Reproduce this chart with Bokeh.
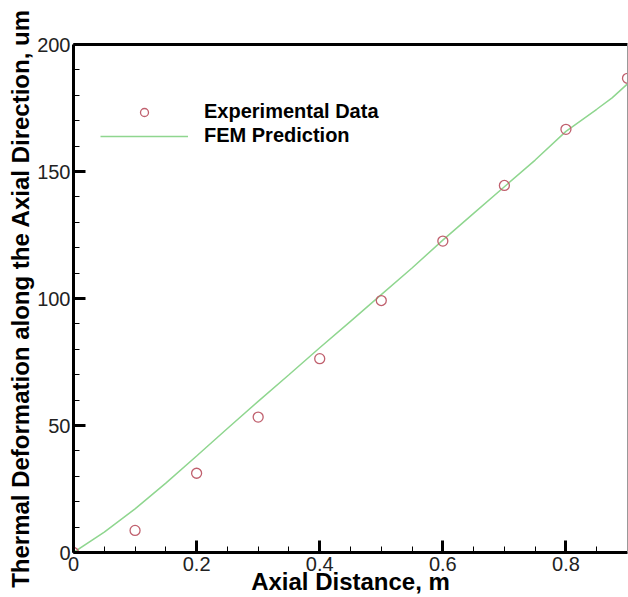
from bokeh.plotting import figure
from bokeh.models import (Range1d, SingleIntervalTicker, LinearAxis, FixedTicker,
                          Legend, LegendItem, NumeralTickFormatter)
from bokeh.embed import file_html
from bokeh.resources import INLINE

x_exp = [0.0, 0.1, 0.2, 0.3, 0.4, 0.5, 0.6, 0.7, 0.8, 0.9]
y_exp = [0.0, 8.7, 31.2, 53.3, 76.3, 99.2, 122.6, 144.5, 166.6, 186.7]

x_fem = [0.0, 0.05, 0.1, 0.15, 0.2, 0.25, 0.3, 0.35, 0.4, 0.45, 0.5,
         0.55, 0.6, 0.65, 0.7, 0.75, 0.8, 0.85, 0.875, 0.9]
y_fem = [0.0, 8.0, 17.2, 27.3, 38.0, 48.8, 59.5, 70.0, 80.6, 91.0, 101.5,
         112.0, 123.0, 133.5, 144.0, 154.5, 165.8, 174.5, 179.0, 184.5]

x_label = "Axial Distance, m"
y_label = "Thermal Deformation along the Axial Direction, um"
series_names = ["Experimental Data", "FEM Prediction"]

FONT = "Liberation Sans"

p = figure(width=628, height=597, output_backend="svg", toolbar_location=None,
           x_range=Range1d(0, 0.9), y_range=Range1d(0, 200),
           min_border_left=73, min_border_top=44, min_border_bottom=45,
           min_border_right=1, x_axis_label=x_label, y_axis_label=y_label)
p.outline_line_color = None
p.grid.visible = False
p.background_fill_color = "white"

line_r = p.line(x_fem, y_fem, line_color="#8fd68f", line_width=1.5)
circ_r = p.scatter(x_exp, y_exp, marker="circle", size=10, fill_color=None,
                   line_color="#c0606e", line_width=1.3)

xa = p.xaxis[0]
xa.ticker = SingleIntervalTicker(interval=0.2, num_minor_ticks=4)
xa.formatter = NumeralTickFormatter(format="0.[0]")
ya = p.yaxis[0]
ya.ticker = SingleIntervalTicker(interval=50, num_minor_ticks=5)

for ax in (xa, ya):
    ax.axis_line_width = 3
    ax.axis_line_color = "black"
    ax.major_tick_in = 12
    ax.major_tick_out = 0
    ax.minor_tick_in = 6
    ax.minor_tick_out = 0
    ax.major_tick_line_width = 3
    ax.minor_tick_line_width = 1
    ax.major_label_text_font = FONT
    ax.major_label_text_font_size = "20px"
    ax.major_label_text_color = "#222222"
    ax.axis_label_text_font = FONT
    ax.axis_label_text_font_size = "24px"
    ax.axis_label_text_font_style = "bold"
    ax.axis_label_text_color = "black"

xa.major_label_standoff = 4
xa.axis_label_standoff = -6
ya.major_label_standoff = 3
ya.axis_label_standoff = 0

top = LinearAxis(ticker=FixedTicker(ticks=[]), axis_line_width=3,
                 axis_line_color="black", major_tick_line_color=None,
                 minor_tick_line_color=None)
right = LinearAxis(ticker=FixedTicker(ticks=[]), axis_line_width=1,
                   axis_line_color="#999999", major_tick_line_color=None,
                   minor_tick_line_color=None)
p.add_layout(top, "above")
p.add_layout(right, "right")

legend = Legend(items=[LegendItem(label=series_names[0], renderers=[circ_r]),
                       LegendItem(label=series_names[1], renderers=[line_r])],
                location=(27, 405), glyph_width=88, glyph_height=20,
                label_standoff=16, spacing=1, padding=0, margin=0,
                border_line_color=None, background_fill_alpha=0,
                label_text_font=FONT, label_text_font_size="20px",
                label_text_font_style="bold", label_text_color="black")
p.add_layout(legend, "center")

open("out.html", "w").write(file_html(p, INLINE))
